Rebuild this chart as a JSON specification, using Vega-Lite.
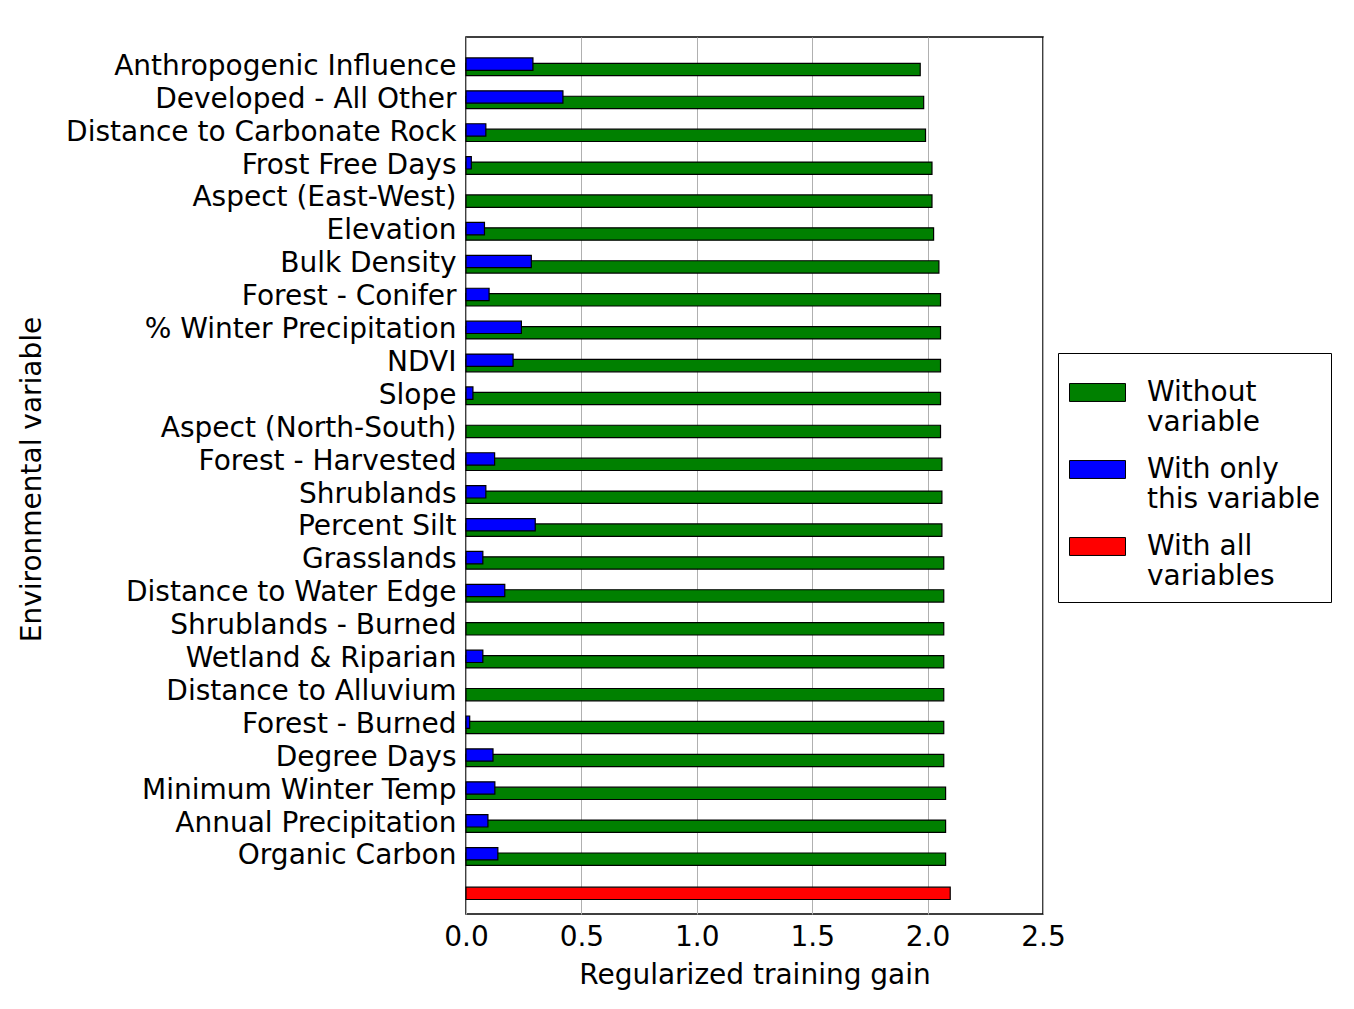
{
  "$schema": "https://vega.github.io/schema/vega-lite/v6.json",
  "width": 577,
  "height": 877,
  "autosize": {"type": "none"},
  "padding": {"left": 466, "top": 37, "right": 311, "bottom": 95},
  "background": "white",
  "config": {
    "font": "DejaVu Sans",
    "view": {"stroke": "black", "strokeWidth": 1.5}
  },
  "data": {
    "values": [
      {"variable": "Anthropogenic Influence", "series": "Without variable", "gain": 1.968},
      {"variable": "Anthropogenic Influence", "series": "With only this variable", "gain": 0.29},
      {"variable": "Developed - All Other", "series": "Without variable", "gain": 1.983},
      {"variable": "Developed - All Other", "series": "With only this variable", "gain": 0.42},
      {"variable": "Distance to Carbonate Rock", "series": "Without variable", "gain": 1.991},
      {"variable": "Distance to Carbonate Rock", "series": "With only this variable", "gain": 0.086},
      {"variable": "Frost Free Days", "series": "Without variable", "gain": 2.019},
      {"variable": "Frost Free Days", "series": "With only this variable", "gain": 0.023},
      {"variable": "Aspect (East-West)", "series": "Without variable", "gain": 2.019},
      {"variable": "Elevation", "series": "Without variable", "gain": 2.026},
      {"variable": "Elevation", "series": "With only this variable", "gain": 0.08},
      {"variable": "Bulk Density", "series": "Without variable", "gain": 2.049},
      {"variable": "Bulk Density", "series": "With only this variable", "gain": 0.283},
      {"variable": "Forest - Conifer", "series": "Without variable", "gain": 2.056},
      {"variable": "Forest - Conifer", "series": "With only this variable", "gain": 0.1},
      {"variable": "% Winter Precipitation", "series": "Without variable", "gain": 2.056},
      {"variable": "% Winter Precipitation", "series": "With only this variable", "gain": 0.24},
      {"variable": "NDVI", "series": "Without variable", "gain": 2.056},
      {"variable": "NDVI", "series": "With only this variable", "gain": 0.204},
      {"variable": "Slope", "series": "Without variable", "gain": 2.056},
      {"variable": "Slope", "series": "With only this variable", "gain": 0.03},
      {"variable": "Aspect (North-South)", "series": "Without variable", "gain": 2.056},
      {"variable": "Forest - Harvested", "series": "Without variable", "gain": 2.062},
      {"variable": "Forest - Harvested", "series": "With only this variable", "gain": 0.124},
      {"variable": "Shrublands", "series": "Without variable", "gain": 2.062},
      {"variable": "Shrublands", "series": "With only this variable", "gain": 0.086},
      {"variable": "Percent Silt", "series": "Without variable", "gain": 2.062},
      {"variable": "Percent Silt", "series": "With only this variable", "gain": 0.3},
      {"variable": "Grasslands", "series": "Without variable", "gain": 2.07},
      {"variable": "Grasslands", "series": "With only this variable", "gain": 0.073},
      {"variable": "Distance to Water Edge", "series": "Without variable", "gain": 2.07},
      {"variable": "Distance to Water Edge", "series": "With only this variable", "gain": 0.168},
      {"variable": "Shrublands - Burned", "series": "Without variable", "gain": 2.07},
      {"variable": "Wetland & Riparian", "series": "Without variable", "gain": 2.07},
      {"variable": "Wetland & Riparian", "series": "With only this variable", "gain": 0.073},
      {"variable": "Distance to Alluvium", "series": "Without variable", "gain": 2.07},
      {"variable": "Forest - Burned", "series": "Without variable", "gain": 2.07},
      {"variable": "Forest - Burned", "series": "With only this variable", "gain": 0.016},
      {"variable": "Degree Days", "series": "Without variable", "gain": 2.07},
      {"variable": "Degree Days", "series": "With only this variable", "gain": 0.117},
      {"variable": "Minimum Winter Temp", "series": "Without variable", "gain": 2.078},
      {"variable": "Minimum Winter Temp", "series": "With only this variable", "gain": 0.125},
      {"variable": "Annual Precipitation", "series": "Without variable", "gain": 2.078},
      {"variable": "Annual Precipitation", "series": "With only this variable", "gain": 0.095},
      {"variable": "Organic Carbon", "series": "Without variable", "gain": 2.078},
      {"variable": "Organic Carbon", "series": "With only this variable", "gain": 0.138},
      {"variable": "All variables", "series": "With all variables", "gain": 2.098}
    ]
  },
  "encoding": {
    "y": {
      "field": "variable",
      "type": "nominal",
      "scale": {
        "domain": ["Anthropogenic Influence", "Developed - All Other", "Distance to Carbonate Rock", "Frost Free Days", "Aspect (East-West)", "Elevation", "Bulk Density", "Forest - Conifer", "% Winter Precipitation", "NDVI", "Slope", "Aspect (North-South)", "Forest - Harvested", "Shrublands", "Percent Silt", "Grasslands", "Distance to Water Edge", "Shrublands - Burned", "Wetland & Riparian", "Distance to Alluvium", "Forest - Burned", "Degree Days", "Minimum Winter Temp", "Annual Precipitation", "Organic Carbon", "All variables"],
        "paddingInner": 0,
        "paddingOuter": 0.328,
        "align": 0.62
      },
      "axis": {
        "title": "Environmental variable",
        "labelExpr": "datum.label == 'All variables' ? '' : datum.label",
        "labelFontSize": 28,
        "labelColor": "black",
        "labelPadding": 10,
        "labelLimit": 600,
        "ticks": false,
        "domain": false,
        "titleFontSize": 28,
        "titleFontWeight": "normal",
        "titleColor": "black",
        "titleX": -434,
        "titleY": 442,
        "titleAngle": -90,
        "titleAlign": "center",
        "titleBaseline": "middle"
      }
    },
    "x": {
      "field": "gain",
      "type": "quantitative",
      "scale": {"domain": [0, 2.5], "nice": false},
      "axis": {
        "title": "Regularized training gain",
        "values": [0, 0.5, 1, 1.5, 2, 2.5],
        "format": ".1f",
        "labelFontSize": 28,
        "labelColor": "black",
        "labelPadding": 9,
        "labelFlush": false,
        "ticks": false,
        "domain": false,
        "grid": true,
        "gridColor": "#b0b0b0",
        "gridWidth": 1,
        "titleFontSize": 28,
        "titleFontWeight": "normal",
        "titleColor": "black",
        "titlePadding": 10
      }
    },
    "color": {
      "field": "series",
      "type": "nominal",
      "scale": {
        "domain": ["Without variable", "With only this variable", "With all variables"],
        "range": ["#008000", "#0000ff", "#ff0000"]
      },
      "legend": {
        "title": null,
        "orient": "none",
        "legendX": 592,
        "legendY": 316,
        "labelExpr": "datum.label == 'Without variable' ? ['Without', 'variable'] : datum.label == 'With only this variable' ? ['With only', 'this variable'] : ['With all', 'variables']",
        "labelFontSize": 28,
        "labelColor": "black",
        "labelOffset": 21,
        "labelLimit": 400,
        "symbolType": "M-1,-0.32L1,-0.32L1,0.32L-1,0.32Z",
        "symbolSize": 3136,
        "symbolStrokeColor": "black",
        "symbolStrokeWidth": 1,
        "symbolOpacity": 1,
        "strokeColor": "black",
        "fillColor": "white",
        "padding": 11,
        "rowPadding": 4
      }
    }
  },
  "layer": [
    {
      "transform": [{"filter": "datum.series == 'Without variable'"}],
      "mark": {"type": "bar", "height": {"band": 0.375}, "yOffset": 2.7, "stroke": "black", "strokeWidth": 1.2, "opacity": 1}
    },
    {
      "transform": [{"filter": "datum.series == 'With only this variable'"}],
      "mark": {"type": "bar", "height": {"band": 0.375}, "yOffset": -2.7, "stroke": "black", "strokeWidth": 1.2, "opacity": 1}
    },
    {
      "transform": [{"filter": "datum.series == 'With all variables'"}],
      "mark": {"type": "bar", "height": {"band": 0.375}, "yOffset": 4, "stroke": "black", "strokeWidth": 1.2, "opacity": 1}
    }
  ]
}
